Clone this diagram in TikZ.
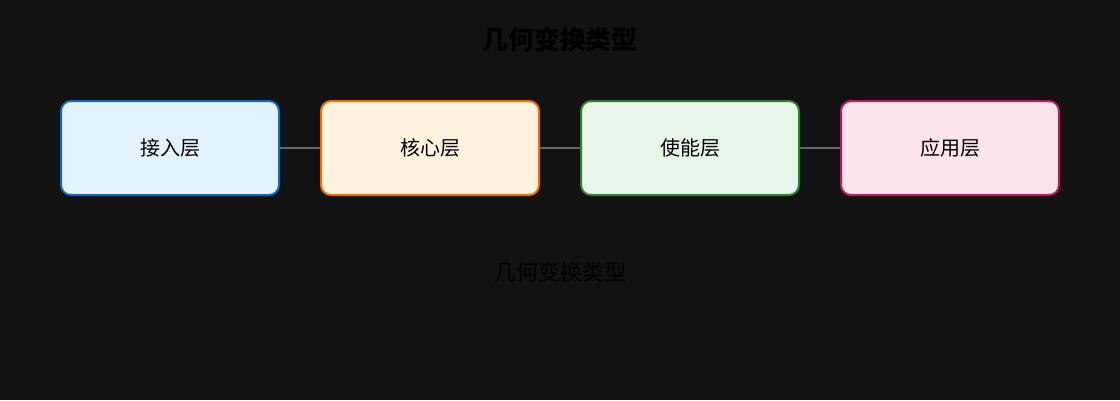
\documentclass[tikz,border=0pt]{standalone}
\usepackage{fontspec}
\setmainfont{Noto Sans CJK SC}
\usepackage{tikz}
\definecolor{bgdark}{HTML}{121212}
\definecolor{linkgray}{HTML}{666666}
\definecolor{accessline}{HTML}{1565C0}
\definecolor{accessfill}{HTML}{E3F2FD}
\definecolor{coreline}{HTML}{EF6C00}
\definecolor{corefill}{HTML}{FFF3E0}
\definecolor{enableline}{HTML}{2E7D32}
\definecolor{enablefill}{HTML}{E8F5E9}
\definecolor{appline}{HTML}{C2185B}
\definecolor{appfill}{HTML}{FCE4EC}

\begin{document}
\begin{tikzpicture}[x=0.75pt,y=-0.75pt]
	\fill[bgdark] (0,0) rectangle (1120,400);
	\node[font=\bfseries\fontsize{19.4}{23}\selectfont] (title) at (560,40) {几何变换类型};
	\begin{scope}[every node/.style={rectangle,rounded corners=7.5pt,draw,line width=1.5pt,
	              minimum width=163.5pt,minimum height=70.5pt,
	              font=\fontsize{15}{18}\selectfont}]
		\node[draw=accessline,fill=accessfill] (access) at (170,148) {接入层};
		\node[draw=coreline,fill=corefill] (core) at (430,148) {核心层};
		\node[draw=enableline,fill=enablefill] (enable) at (690,148) {使能层};
		\node[draw=appline,fill=appfill] (app) at (950,148) {应用层};
	\end{scope}

	\begin{scope}[every edge/.style={draw=linkgray,line width=1.1pt}]
		\path (access) edge (core);
		\path (core) edge (enable);
		\path (enable) edge (app);
	\end{scope}
	\node[font=\fontsize{16.5}{20}\selectfont] (caption) at (560,272) {几何变换类型};
\end{tikzpicture}
\end{document}
